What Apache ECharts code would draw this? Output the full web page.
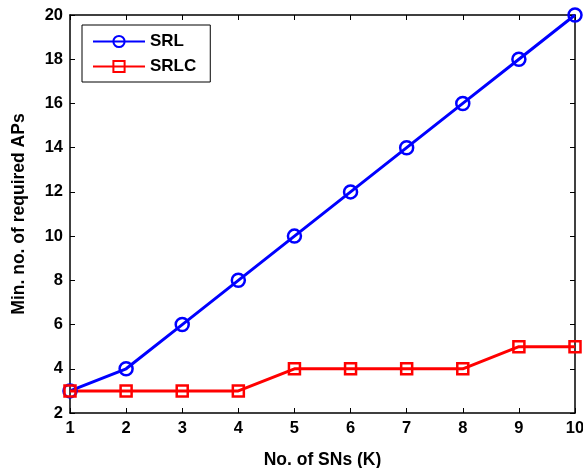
<!DOCTYPE html>
<html><head><meta charset="utf-8">
<script src="https://cdn.jsdelivr.net/npm/echarts@6/dist/echarts.min.js"></script>
<style>html,body{margin:0;padding:0;background:#fff}#c{width:583px;height:468px}</style>
</head><body><div id="c"></div>
<script>
const xValues = [1,2,3,4,5,6,7,8,9,10];
const srl = [3,4,6,8,10,12,14,16,18,20];
const srlc = [3,3,3,3,4,4,4,4,5,5];
const seriesNames = ['SRL','SRLC'];
const xTitle = 'No. of SNs (K)';
const yTitle = 'Min. no. of required APs';

const font = 'Liberation Sans, Arial, sans-serif';
const chart = echarts.init(document.getElementById('c'), null, {renderer:'canvas'});
const axisLine = {show:true, onZero:false, lineStyle:{color:'#000', width:1.5}};
const tick = {show:true, inside:true, length:5, lineStyle:{color:'#000', width:1}};
const lbl = {color:'#000', fontWeight:'bold', fontSize:16.5, fontFamily:font};
const ttl = {color:'#000', fontWeight:'bold', fontSize:17.5, fontFamily:font};
chart.setOption({
  animation:false,
  grid:{left:70, right:8, top:15, bottom:55, containLabel:false, outerBoundsMode:'none'},
  legend:{
    left:82, top:25, orient:'vertical',
    borderColor:'#000', borderWidth:1, padding:[8,14,7,10], itemGap:8,
    itemWidth:52, itemHeight:14,
    textStyle:{color:'#000', fontWeight:'bold', fontSize:17, fontFamily:font},
    data:seriesNames
  },
  xAxis:[{
    type:'value', min:1, max:10, interval:1,
    axisLine:axisLine, axisTick:tick, splitLine:{show:false},
    axisLabel:Object.assign({margin:7}, lbl),
    name:xTitle, nameLocation:'middle', nameGap:38,
    nameTextStyle:ttl
  },{
    type:'value', min:1, max:10, interval:1, position:'top',
    axisLine:axisLine, axisTick:tick, axisLabel:{show:false}, splitLine:{show:false}
  }],
  yAxis:[{
    type:'value', min:2, max:20, interval:2,
    axisLine:axisLine, axisTick:tick, splitLine:{show:false},
    axisLabel:Object.assign({margin:7}, lbl),
    name:yTitle, nameLocation:'middle', nameGap:42,
    nameTextStyle:ttl
  },{
    type:'value', min:2, max:20, interval:2, position:'right',
    axisLine:axisLine, axisTick:tick, axisLabel:{show:false}, splitLine:{show:false}
  }],
  series:[{
    name:seriesNames[0], type:'line', clip:false,
    data:xValues.map((x,i)=>[x,srl[i]]),
    symbol:'circle', symbolSize:13,
    lineStyle:{color:'#0000ff', width:3},
    itemStyle:{color:'rgba(255,255,255,0)', borderColor:'#0000ff', borderWidth:2.5}
  },{
    name:seriesNames[1], type:'line', clip:false,
    data:xValues.map((x,i)=>[x,srlc[i]]),
    symbol:'rect', symbolSize:11,
    lineStyle:{color:'#ff0000', width:3},
    itemStyle:{color:'rgba(255,255,255,0)', borderColor:'#ff0000', borderWidth:2.5}
  }]
});
</script></body></html>
